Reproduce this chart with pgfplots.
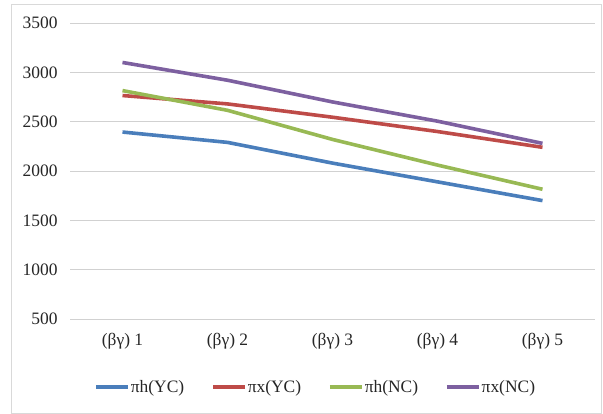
\documentclass[border=0pt]{standalone}
\usepackage{fontspec}
\setmainfont{Liberation Serif}
\usepackage{pgfplots}
\pgfplotsset{compat=1.18}
\definecolor{cblue}{HTML}{4A7EBB}
\definecolor{cred}{HTML}{BE4B48}
\definecolor{cgreen}{HTML}{98B954}
\definecolor{cpurple}{HTML}{7D60A0}
\begin{document}
\begin{tikzpicture}
\useasboundingbox (0,0) rectangle (603bp,414bp);
\draw[black!15, line width=0.8bp] (11bp,1bp) rectangle (601bp,410bp);
\begin{axis}[
  at={(70bp,95bp)}, anchor=south west,
  scale only axis, width=525bp, height=296bp,
  xmin=0.5, xmax=5.5, ymin=500, ymax=3500,
  xtick={1,2,3,4,5},
  xticklabels={(βγ) 1,(βγ) 2,(βγ) 3,(βγ) 4,(βγ) 5},
  ytick={500,1000,...,3500},
  axis line style={draw=none},
  major tick length=0pt,
  ymajorgrids, grid style={black!18, line width=0.8bp},
  /pgf/number format/assume math mode=true,
  /pgf/number format/1000 sep={},
  tick label style={font=\fontsize{17.5}{20}\selectfont, text=black!85},
  xticklabel style={yshift=-11bp},
  yticklabel style={xshift=-9bp},
  legend style={at={(0.467,-0.23)}, anchor=center, draw=none, legend columns=4,
    font=\fontsize{17.5}{20}\selectfont, text=black!85,
    nodes={inner sep=1bp},
    /tikz/every even column/.append style={column sep=26bp}},
  legend image code/.code={\draw[#1] (0bp,0bp) -- (32bp,0bp);},
  every axis plot/.append style={line width=3.6bp},
]
\addplot[cblue] coordinates {(1,2395) (2,2290) (3,2080) (4,1890) (5,1700)};
\addlegendentry{πh(YC)}
\addplot[cred] coordinates {(1,2765) (2,2680) (3,2545) (4,2400) (5,2240)};
\addlegendentry{πx(YC)}
\addplot[cgreen] coordinates {(1,2815) (2,2615) (3,2320) (4,2060) (5,1815)};
\addlegendentry{πh(NC)}
\addplot[cpurple] coordinates {(1,3100) (2,2920) (3,2700) (4,2505) (5,2280)};
\addlegendentry{πx(NC)}
\end{axis}
\end{tikzpicture}
\end{document}
